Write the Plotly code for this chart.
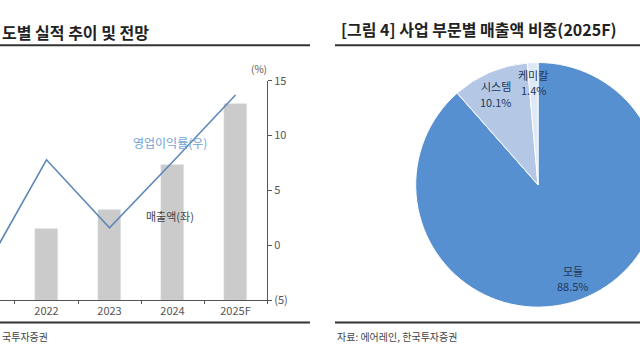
import plotly.graph_objects as go

# ---- data ----
years = ["2021", "2022", "2023", "2024", "2025F"]
sales = [None, 98, 124, 185, 269]          # 매출액 (좌), left axis (not visible in crop)
op_margin = [-2.4, 7.8, 1.6, 7.6, 13.7]    # 영업이익률 (우), %
y2_ticks = [-5, 0, 5, 10, 15]
y2_ticktext = ["(5)", "0", "5", "10", "15"]

seg_labels = ["모듈", "시스템", "케미칼"]
seg_values = [88.5, 10.1, 1.4]

W, H = 670, 360
FONT = "Noto Sans CJK KR"

def px(x):
    return x / W

def py(y):
    return 1 - y / H

fig = go.Figure()

fig.add_trace(go.Bar(
    x=years, y=sales, marker_color="#cbcbcb", width=0.38,
    xaxis="x", yaxis="y", hoverinfo="skip", showlegend=False))

fig.add_trace(go.Scatter(
    x=years, y=op_margin, mode="lines", line=dict(color="#5f88b8", width=1.6),
    xaxis="x", yaxis="y2", hoverinfo="skip", showlegend=False))

fig.add_trace(go.Pie(
    labels=seg_labels, values=seg_values, sort=False, direction="clockwise",
    rotation=0, textinfo="none", hoverinfo="skip", showlegend=False,
    marker=dict(colors=["#5690d0", "#b4c8e6", "#dfe8f5"],
                line=dict(color="white", width=1)),
    domain=dict(x=[px(410), px(666)], y=[py(312), py(56)])))

fig.update_layout(
    width=W, height=H, margin=dict(l=0, r=0, t=0, b=0),
    paper_bgcolor="white", plot_bgcolor="white",
    font=dict(family=FONT, color="#444"),
    bargap=0,
    xaxis=dict(domain=[0, px(267)], type="category", range=[0.262, 4.5],
               showline=True, linecolor="#555", linewidth=1,
               ticks="outside", tickson="boundaries", ticklen=3, tickcolor="#555",
               tickfont=dict(size=11, color="#555"), showgrid=False, zeroline=False),
    yaxis=dict(domain=[py(305), py(75)], range=[0, 300], visible=False),
    yaxis2=dict(domain=[py(305), py(75)], overlaying="y", side="right", anchor="x",
                range=[-5, 15], tickvals=y2_ticks, ticktext=y2_ticktext,
                showline=True, linecolor="#555", linewidth=1,
                ticks="outside", ticklen=4, tickcolor="#555",
                tickfont=dict(size=11, color="#555"), showgrid=False, zeroline=False),
)

ann = [
    dict(x=px(0), y=py(24), text="<b>도별 실적 추이 및 전망</b>", xanchor="left",
         font=dict(size=16, color="#222")),
    dict(x=px(339), y=py(21), text="<b>[그림 4] 사업 부문별 매출액 비중(2025F)</b>",
         xanchor="left", font=dict(size=16, color="#222")),
    dict(x=px(0), y=py(343), text="국투자증권", xanchor="left",
         font=dict(size=10, color="#444")),
    dict(x=px(335), y=py(343), text="자료: 에어레인, 한국투자증권", xanchor="left",
         font=dict(size=10, color="#444")),
    dict(x=px(259), y=py(62), text="(%)", font=dict(size=10, color="#555")),
    dict(x=px(170), y=py(140), text="영업이익률(우)", font=dict(size=12, color="#6fa2d6")),
    dict(x=px(170), y=py(217), text="매출액(좌)", font=dict(size=11, color="#444")),
    dict(x=px(533), y=py(69), text="케미칼", font=dict(size=11, color="#23395b")),
    dict(x=px(533), y=py(85), text="1.4%", font=dict(size=11, color="#23395b")),
    dict(x=px(496), y=py(81), text="시스템", font=dict(size=11, color="#23395b")),
    dict(x=px(496), y=py(97), text="10.1%", font=dict(size=11, color="#23395b")),
    dict(x=px(573), y=py(274), text="모듈", font=dict(size=11, color="#23395b")),
    dict(x=px(573), y=py(290), text="88.5%", font=dict(size=11, color="#23395b")),
]
for a in ann:
    a.update(xref="paper", yref="paper", showarrow=False, yanchor="middle")
    a.setdefault("xanchor", "center")
fig.update_layout(annotations=ann)

shapes = []
for x0, x1, y in [(0, 310, 38), (335, 670, 38), (0, 310, 328), (335, 670, 328)]:
    shapes.append(dict(type="line", xref="paper", yref="paper",
                       x0=px(x0), x1=px(x1), y0=py(y), y1=py(y),
                       line=dict(color="#333", width=2)))
fig.update_layout(shapes=shapes)

fig.write_html("out.html", config={"displayModeBar": False},
               post_script="document.body.style.margin='0';document.body.style.overflow='hidden';")
